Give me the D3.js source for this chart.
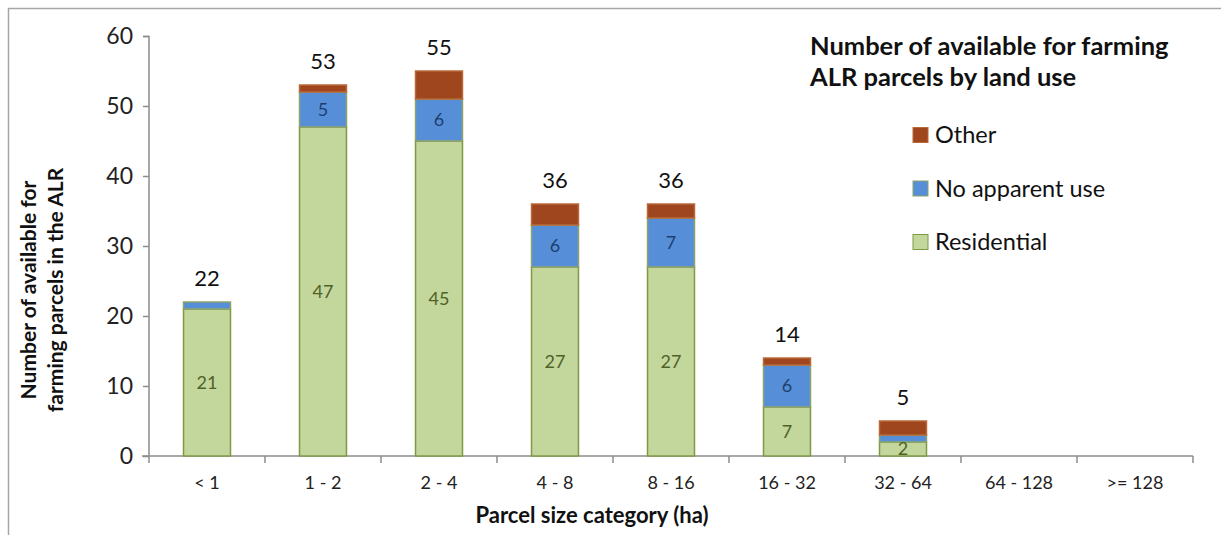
<!DOCTYPE html>
<html>
<head>
<meta charset="utf-8">
<script src="https://cdn.jsdelivr.net/npm/d3@7"></script>
<style>
  html, body { margin: 0; padding: 0; background: #fff; }
  svg { display: block; font-family: Lato, "Open Sans", sans-serif; }
</style>
</head>
<body>
<svg id="chart" width="1221" height="535"></svg>
<script>
// Parcel size categories (ha)
const categories = ["< 1", "1 - 2", "2 - 4", "4 - 8", "8 - 16", "16 - 32", "32 - 64", "64 - 128", ">= 128"];

// Parcel counts by land use
const residential = [21, 47, 45, 27, 27, 7, 2, 0, 0];
const noApparentUse = [1, 5, 6, 6, 7, 6, 1, 0, 0];
const other = [0, 1, 4, 3, 2, 1, 2, 0, 0];

// Totals printed above each bar
const totals = [22, 53, 55, 36, 36, 14, 5, null, null];

const yTicks = [0, 10, 20, 30, 40, 50, 60];

const seriesNames = ["Residential", "No apparent use", "Other"];
const legendOrder = ["Other", "No apparent use", "Residential"];
const fills = { "Residential": "#c3d69b", "No apparent use": "#568fd8", "Other": "#a0461f" };
const strokes = { "Residential": "#7f9a45", "No apparent use": "#8ea36a", "Other": "#b86a3a" };
const labelColors = { "Residential": "#4f6228", "No apparent use": "#1f3f6e" };

const svg = d3.select("#chart");

// Outer frame (top and left edges)
svg.append("path")
  .attr("d", "M8.5,535 V8.5 H1221")
  .attr("fill", "none").attr("stroke", "#a6a6a6").attr("stroke-width", 1.5);

const x = d3.scaleBand().domain(categories).range([149, 1193]).paddingInner(0).paddingOuter(0);
const y = d3.scaleLinear().domain([0, 60]).range([456, 36]);
const barW = x.bandwidth() * 0.405;

const table = categories.map((c, i) => ({
  category: c,
  "Residential": residential[i],
  "No apparent use": noApparentUse[i],
  "Other": other[i]
}));
const stacked = d3.stack().keys(seriesNames)(table);

// Y axis
const yAxis = svg.append("g").attr("transform", "translate(149,0)")
  .call(d3.axisLeft(y).tickValues(yTicks).tickSize(6).tickPadding(10));
yAxis.select(".domain").attr("stroke", "#8c8c8c").attr("stroke-width", 1.5).attr("d", "M-6,36.5H0V456");
yAxis.selectAll(".tick line").attr("stroke", "#8c8c8c").attr("stroke-width", 1.5);
yAxis.selectAll(".tick text").attr("font-size", 23).attr("fill", "#222").attr("font-family", "Lato, sans-serif");

// X axis: ticks on band boundaries, labels at band centres
const xAxisG = svg.append("g");
xAxisG.append("line").attr("x1", 142).attr("x2", 1193).attr("y1", 456).attr("y2", 456)
  .attr("stroke", "#8c8c8c").attr("stroke-width", 1.5);
const boundaries = categories.map(c => x(c)).concat([x.range()[1]]);
xAxisG.selectAll("line.tk").data(boundaries).join("line").attr("class", "tk")
  .attr("x1", d => d).attr("x2", d => d).attr("y1", 456).attr("y2", 463)
  .attr("stroke", "#8c8c8c").attr("stroke-width", 1.5);
xAxisG.selectAll("text").data(categories).join("text")
  .attr("x", d => x(d) + x.bandwidth() / 2).attr("y", 489)
  .attr("text-anchor", "middle").attr("font-size", 18).attr("fill", "#222")
  .text(d => d);

// Stacked bars
const layers = svg.append("g").selectAll("g").data(stacked).join("g")
  .attr("fill", d => fills[d.key]).attr("stroke", d => strokes[d.key]).attr("stroke-width", 1.5);
layers.selectAll("rect").data(d => d.map(v => ({ key: d.key, v }))).join("rect")
  .filter(d => d.v[1] - d.v[0] > 0)
  .attr("x", d => x(d.v.data.category) + (x.bandwidth() - barW) / 2)
  .attr("width", barW)
  .attr("y", d => y(d.v[1]))
  .attr("height", d => y(d.v[0]) - y(d.v[1]));

// Segment labels (Residential and No apparent use, values above 1)
["Residential", "No apparent use"].forEach(key => {
  const layer = stacked.find(s => s.key === key);
  svg.append("g").selectAll("text").data(layer.filter(v => v[1] - v[0] > 1)).join("text")
    .attr("x", v => x(v.data.category) + x.bandwidth() / 2)
    .attr("y", v => y((v[0] + v[1]) / 2))
    .attr("dy", "0.35em")
    .attr("text-anchor", "middle").attr("font-size", 18)
    .attr("fill", labelColors[key])
    .text(v => v[1] - v[0]);
});

// Totals above bars
svg.append("g").selectAll("text").data(categories.map((c, i) => ({ c, t: totals[i] })).filter(d => d.t != null)).join("text")
  .attr("x", d => x(d.c) + x.bandwidth() / 2)
  .attr("y", d => y(d.t) - 16)
  .attr("text-anchor", "middle").attr("font-size", 22).attr("fill", "#111")
  .text(d => d.t);

// Chart title
const title = svg.append("text").attr("x", 810).attr("y", 55)
  .attr("font-size", 25.5).attr("font-weight", "bold").attr("fill", "#111");
title.append("tspan").attr("x", 810).text("Number of available for farming");
title.append("tspan").attr("x", 810).attr("dy", 31).text("ALR parcels by land use");

// Legend
const legend = svg.append("g").selectAll("g").data(legendOrder).join("g")
  .attr("transform", (d, i) => `translate(913, ${135 + i * 53.5})`);
legend.append("rect").attr("x", 0).attr("y", -7.5).attr("width", 15).attr("height", 15)
  .attr("fill", d => fills[d]).attr("stroke", d => strokes[d]).attr("stroke-width", 1);
legend.append("text").attr("x", 22).attr("dy", "0.36em").attr("font-size", 23.5).attr("fill", "#111")
  .text(d => d);

// Axis titles
svg.append("text").attr("x", 592).attr("y", 523).attr("text-anchor", "middle")
  .attr("font-size", 22).attr("font-weight", "bold").attr("fill", "#111")
  .text("Parcel size category (ha)");
const yTitle = svg.append("text").attr("transform", "translate(36,290) rotate(-90)")
  .attr("text-anchor", "middle").attr("font-size", 21).attr("font-weight", "bold").attr("fill", "#111");
yTitle.append("tspan").attr("x", 0).attr("y", 0).text("Number of available for");
yTitle.append("tspan").attr("x", 0).attr("y", 27).text("farming parcels in the ALR");
</script>
</body>
</html>
